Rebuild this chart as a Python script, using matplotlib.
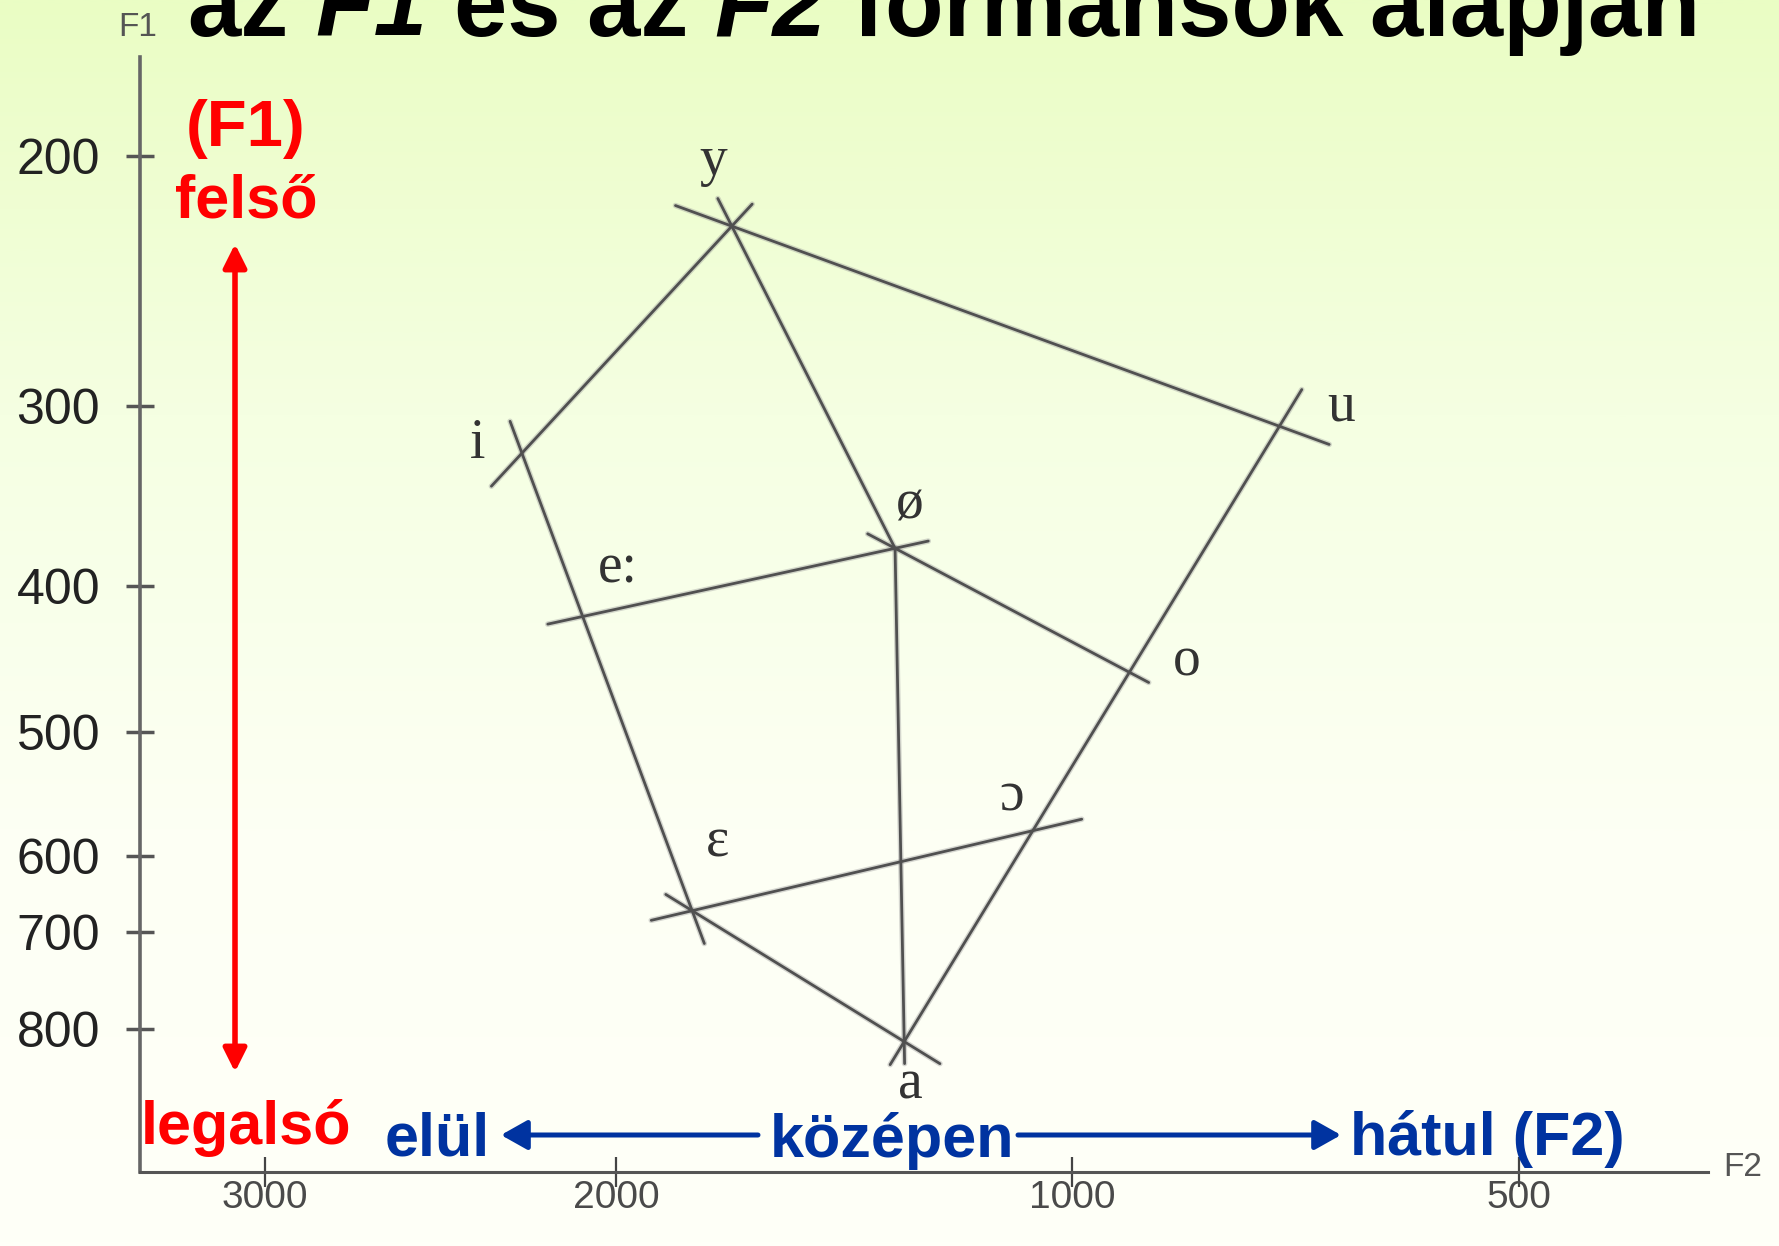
import numpy as np
import matplotlib
matplotlib.use("Agg")
import matplotlib.pyplot as plt
from matplotlib.colors import LinearSegmentedColormap

W, H, DPI = 1779, 1246, 100

# Axis calibration: tick values (Hz) and where the hand-drawn scale puts them
f1_ticks = [200, 300, 400, 500, 600, 700, 800]
f1_tick_px = [156, 406.5, 586, 732, 856, 932, 1029]      # pixels from top edge
f2_ticks = [3000, 2000, 1000, 500]
f2_tick_px = [265, 616, 1072, 1519]                       # pixels from left edge

# Vowels with their formant values (Hz)
vowels = ["i", "y", "u", "e:", "ø", "o", "ɛ", "ɔ", "a"]
f2_hz = [2268, 1746, 768, 2097, 1388, 933, 1833, 1079, 1368]
f1_hz = [326, 228, 311, 421, 379, 460, 672, 579, 813]

# Vowel pairs joined by a line
links = [("i", "y"), ("y", "u"), ("y", "ø"), ("i", "ɛ"), ("e:", "ø"),
         ("ø", "o"), ("u", "a"), ("ø", "a"), ("ɛ", "a"), ("ɛ", "ɔ")]

# --- styling -------------------------------------------------------------
overhang = [(45, 30), (60, 53), (31, 0), (34, 35), (35, 34),
            (31, 19), (43, 27), (0, 22), (31, 42), (42, 47)]   # px past each end
label_offset = {"i": (-44, 9), "y": (-19, 65), "u": (62, 20), "e:": (36, 48),
                "ø": (14, 44), "o": (55, 12), "ɛ": (25, 68), "ɔ": (-24, 33),
                "a": (6, -43)}
SANS = ["Liberation Sans", "DejaVu Sans"]
SERIF = ["Liberation Serif", "DejaVu Serif"]
RED = "#FF0000"
BLUE = "#0033A0"
plt.rcParams["font.family"] = SANS


def piecewise(xp, fp):
    """Piecewise-linear map with linear extrapolation at both ends."""
    xp = np.asarray(xp, float)
    fp = np.asarray(fp, float)
    k = np.argsort(xp)
    xp, fp = xp[k], fp[k]
    s_lo = (fp[1] - fp[0]) / (xp[1] - xp[0])
    s_hi = (fp[-1] - fp[-2]) / (xp[-1] - xp[-2])

    def f(v):
        v = np.asarray(v, float)
        out = np.interp(v, xp, fp)
        out = np.where(v < xp[0], fp[0] + (v - xp[0]) * s_lo, out)
        return np.where(v > xp[-1], fp[-1] + (v - xp[-1]) * s_hi, out)
    return f


# F1 grows downwards with the pixel row; F2 grows leftwards, so its
# scale uses the negated column to stay monotonically increasing.
f1_fwd, f1_inv = piecewise(f1_ticks, f1_tick_px), piecewise(f1_tick_px, f1_ticks)
_f2_px, _f2_hz = piecewise(f2_ticks, f2_tick_px), piecewise(f2_tick_px, f2_ticks)


def f2_fwd(v):
    return -_f2_px(v)


def f2_inv(t):
    return _f2_hz(-np.asarray(t, float))


fig = plt.figure(figsize=(W / DPI, H / DPI), dpi=DPI)

# soft vertical background gradient
bg = fig.add_axes([0, 0, 1, 1])
bg.axis("off")
cmap = LinearSegmentedColormap.from_list("bg", ["#EAFDC4", "#F5FFE2", "#FDFFF4", "#FFFFF8"])
bg.imshow(np.linspace(0, 1, 512).reshape(-1, 1), cmap=cmap, aspect="auto",
          extent=[0, 1, 0, 1], origin="upper")

# main axes: spines at x=139.7 px (left) and y=1172 px (bottom)
X0, X1, Y0, Y1 = 139.7, 1708, 57, 1172
ax = fig.add_axes([X0 / W, 1 - Y1 / H, (X1 - X0) / W, (Y1 - Y0) / H])
ax.set_facecolor("none")
ax.set_xscale("function", functions=(f2_fwd, f2_inv))
ax.set_yscale("function", functions=(f1_fwd, f1_inv))
ax.set_xlim(float(_f2_hz(X0)), float(_f2_hz(X1)))
ax.set_ylim(float(f1_inv(Y1)), float(f1_inv(Y0)))

for s in ("top", "right"):
    ax.spines[s].set_visible(False)
ax.spines["left"].set_color("#666666")
ax.spines["left"].set_linewidth(2.6)
ax.spines["bottom"].set_color("#555555")
ax.spines["bottom"].set_linewidth(2.2)

ax.set_yticks(f1_ticks)
ax.set_yticklabels([str(v) for v in f1_ticks])
ax.set_xticks(f2_ticks)
ax.set_xticklabels([str(v) for v in f2_ticks])
ax.yaxis.set_minor_locator(matplotlib.ticker.NullLocator())
ax.xaxis.set_minor_locator(matplotlib.ticker.NullLocator())
ax.tick_params(axis="y", direction="inout", length=20, width=2.5, color="#555555",
               pad=18.5, labelsize=36, labelcolor="#222222")
ax.tick_params(axis="x", direction="inout", length=22, width=1.6, color="#444444",
               pad=-5.5, labelsize=28, labelcolor="#4a4a4a")

# vowel network
pos = dict(zip(vowels, zip(f2_hz, f1_hz)))
to_px = ax.transData
from_px = ax.transData.inverted()
for (a, b), (oa, ob) in zip(links, overhang):
    pa = to_px.transform(pos[a])
    pb = to_px.transform(pos[b])
    d = (pb - pa) / np.hypot(*(pb - pa))
    ends = from_px.transform(np.vstack([pa - d * oa, pb + d * ob]))
    ax.plot(ends[:, 0], ends[:, 1], color="#9a9a9a", lw=4.0, alpha=0.4,
            solid_capstyle="round", zorder=2)
    ax.plot(ends[:, 0], ends[:, 1], color="#505050", lw=2.0,
            solid_capstyle="round", zorder=3)

for v in vowels:
    ax.annotate(v, xy=pos[v], xytext=label_offset[v], textcoords="offset pixels",
                ha="center", va="center", fontsize=40, family=SERIF,
                color="#333333", zorder=4)


def ftext(x, y, s, **kw):
    return fig.text(x / W, 1 - y / H, s, **kw)


def farrow(x0, y0, x1, y1, color, style, lw):
    ax.annotate("", xy=(x1, H - y1), xytext=(x0, H - y0),
                xycoords="figure pixels", textcoords="figure pixels",
                annotation_clip=False,
                arrowprops=dict(arrowstyle=style, color=color, lw=lw,
                                mutation_scale=20, shrinkA=0, shrinkB=0))


# axis names
ftext(138, 27, "F1", ha="center", va="center", fontsize=24, color="#555555")
ftext(1743, 1167, "F2", ha="center", va="center", fontsize=24, color="#555555")

# F1 direction (red)
bold = dict(fontweight="bold", fontsize=44)
ftext(246, 146, "(F1)", ha="center", va="baseline", color=RED,
      fontweight="bold", fontsize=47)
ftext(246, 218, "felső", ha="center", va="baseline", color=RED, **bold)
ftext(246, 1144, "legalsó", ha="center", va="baseline", color=RED, **bold)
farrow(235, 1072, 235, 244, RED, "<|-|>,head_length=0.7,head_width=0.35", 4)

# F2 direction (blue)
ftext(437, 1155, "elül", ha="center", va="baseline", color=BLUE, **bold)
ftext(892, 1157, "középen", ha="center", va="baseline", color=BLUE, **bold)
ftext(1350, 1155, "hátul (F2)", ha="left", va="baseline", color=BLUE, **bold)
farrow(758, 1135, 501, 1135, BLUE, "-|>,head_length=0.8,head_width=0.45", 3.6)
farrow(1018, 1135, 1341, 1135, BLUE, "-|>,head_length=0.8,head_width=0.45", 3.6)

# title line (upper part runs off the top edge), F1/F2 in bold italic
renderer = fig.canvas.get_renderer()
tsize = 69
p1 = fig.text(0, 0, "a a", fontsize=tsize, fontweight="bold")
p2 = fig.text(0, 0, "aa", fontsize=tsize, fontweight="bold")
space = p1.get_window_extent(renderer).width - p2.get_window_extent(renderer).width
p1.remove()
p2.remove()
x = 187
for s, style in [("az", "normal"), ("F1", "italic"), ("és az", "normal"),
                 ("F2", "italic"), ("formánsok alapján", "normal")]:
    t = ftext(x, 36, s, ha="left", va="baseline", fontsize=tsize,
              fontweight="bold", fontstyle=style, color="black")
    x += t.get_window_extent(renderer).width + space

fig.savefig("out.png", dpi=DPI)
